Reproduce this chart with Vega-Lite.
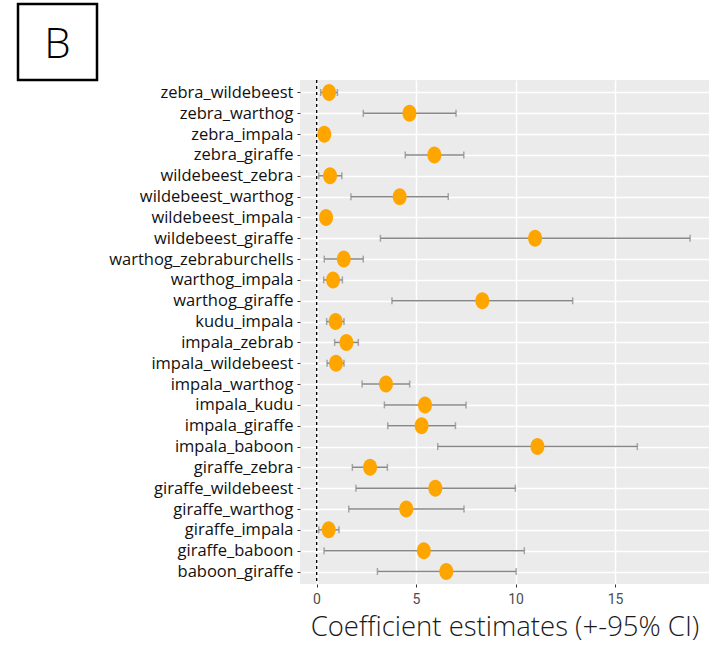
{
  "$schema": "https://vega.github.io/schema/vega-lite/v6.json",
  "padding": {"left": 16, "top": 2, "right": 0, "bottom": 0},
  "bounds": "flush",
  "columns": 2,
  "spacing": {"column": 203, "row": 0},
  "config": {"view": {"stroke": null}, "font": "Open Sans"},
  "datasets": {
    "est": [
      {"pair": "zebra_wildebeest", "est": 0.63, "lo": 0.21, "hi": 1.05},
      {"pair": "zebra_warthog", "est": 4.67, "lo": 2.35, "hi": 7.01},
      {"pair": "zebra_impala", "est": 0.39, "lo": 0.3, "hi": 0.5},
      {"pair": "zebra_giraffe", "est": 5.92, "lo": 4.46, "hi": 7.40},
      {"pair": "wildebeest_zebra", "est": 0.68, "lo": 0.11, "hi": 1.27},
      {"pair": "wildebeest_warthog", "est": 4.18, "lo": 1.73, "hi": 6.62},
      {"pair": "wildebeest_impala", "est": 0.48, "lo": 0.21, "hi": 0.74},
      {"pair": "wildebeest_giraffe", "est": 10.98, "lo": 3.21, "hi": 18.77},
      {"pair": "warthog_zebraburchells", "est": 1.37, "lo": 0.39, "hi": 2.35},
      {"pair": "warthog_impala", "est": 0.83, "lo": 0.36, "hi": 1.30},
      {"pair": "warthog_giraffe", "est": 8.33, "lo": 3.79, "hi": 12.87},
      {"pair": "kudu_impala", "est": 0.96, "lo": 0.51, "hi": 1.38},
      {"pair": "impala_zebrab", "est": 1.50, "lo": 0.91, "hi": 2.10},
      {"pair": "impala_wildebeest", "est": 0.98, "lo": 0.53, "hi": 1.38},
      {"pair": "impala_warthog", "est": 3.49, "lo": 2.29, "hi": 4.68},
      {"pair": "impala_kudu", "est": 5.45, "lo": 3.41, "hi": 7.51},
      {"pair": "impala_giraffe", "est": 5.28, "lo": 3.58, "hi": 6.98},
      {"pair": "impala_baboon", "est": 11.10, "lo": 6.09, "hi": 16.12},
      {"pair": "giraffe_zebra", "est": 2.69, "lo": 1.80, "hi": 3.56},
      {"pair": "giraffe_wildebeest", "est": 5.97, "lo": 1.98, "hi": 9.99},
      {"pair": "giraffe_warthog", "est": 4.51, "lo": 1.62, "hi": 7.41},
      {"pair": "giraffe_impala", "est": 0.61, "lo": 0.11, "hi": 1.13},
      {"pair": "giraffe_baboon", "est": 5.39, "lo": 0.38, "hi": 10.44},
      {"pair": "baboon_giraffe", "est": 6.52, "lo": 3.06, "hi": 10.03}
    ]
  },
  "concat": [
    {
      "width": 79,
      "height": 76,
      "view": {"stroke": "black", "strokeWidth": 2.5},
      "data": {"values": [{"label": "B"}]},
      "mark": {"type": "text", "fontSize": 42, "fontWeight": 300, "color": "black", "dy": 3},
      "encoding": {"text": {"field": "label"}}
    },
    {
      "width": 1,
      "height": 1,
      "data": {"values": []},
      "mark": "point",
      "encoding": {}
    },
    {
      "width": 1,
      "height": 1,
      "data": {"values": []},
      "mark": "point",
      "encoding": {}
    },
    {
      "width": 409,
      "height": 504,
      "view": {"fill": "#EBEBEB", "stroke": null},
      "data": {"name": "est"},
      "encoding": {
        "y": {
          "field": "pair",
          "type": "nominal",
          "sort": null,
          "scale": {"type": "point", "padding": 0.6},
          "axis": {
            "title": null,
            "domain": false,
            "grid": true,
            "gridColor": "white",
            "gridWidth": 1.5,
            "ticks": true,
            "tickColor": "#333333",
            "tickSize": 3,
            "labelFontSize": 16.5,
            "labelLimit": 300,
            "labelColor": "#111111",
            "labelPadding": 4
          }
        }
      },
      "layer": [
        {
          "mark": {"type": "rule", "color": "black", "strokeDash": [3, 3], "strokeWidth": 1},
          "encoding": {"x": {"datum": 0, "type": "quantitative"}, "y": null}
        },
        {
          "mark": {"type": "rule", "color": "#888888", "strokeWidth": 1.5},
          "encoding": {
            "x": {
              "field": "lo",
              "type": "quantitative",
              "scale": {"domain": [-0.83, 19.72], "nice": false, "zero": false},
              "axis": {
                "title": "Coefficient estimates (+-95% CI)",
                "titleFontSize": 27.5,
                "titleFontWeight": 300,
                "titleColor": "#1a1a1a",
                "titlePadding": 7,
                "values": [0, 5, 10, 15],
                "domain": false,
                "grid": true,
                "gridColor": "white",
                "gridWidth": 1.5,
                "tickColor": "#333333",
                "tickSize": 3,
                "labelFont": "Roboto",
                "labelFontSize": 14,
                "labelColor": "#4d4d4d",
                "labelPadding": 5
              }
            },
            "x2": {"field": "hi"}
          }
        },
        {
          "mark": {"type": "tick", "color": "#888888", "size": 7, "thickness": 1.5},
          "encoding": {"x": {"field": "lo", "type": "quantitative"}}
        },
        {
          "mark": {"type": "tick", "color": "#888888", "size": 7, "thickness": 1.5},
          "encoding": {"x": {"field": "hi", "type": "quantitative"}}
        },
        {
          "mark": {"type": "point", "filled": true, "color": "#FFA500", "opacity": 1, "size": 289, "shape": "M0,-1A0.82,1 0 1,1 0,1A0.82,1 0 1,1 0,-1Z"},
          "encoding": {"x": {"field": "est", "type": "quantitative"}}
        }
      ]
    }
  ]
}
